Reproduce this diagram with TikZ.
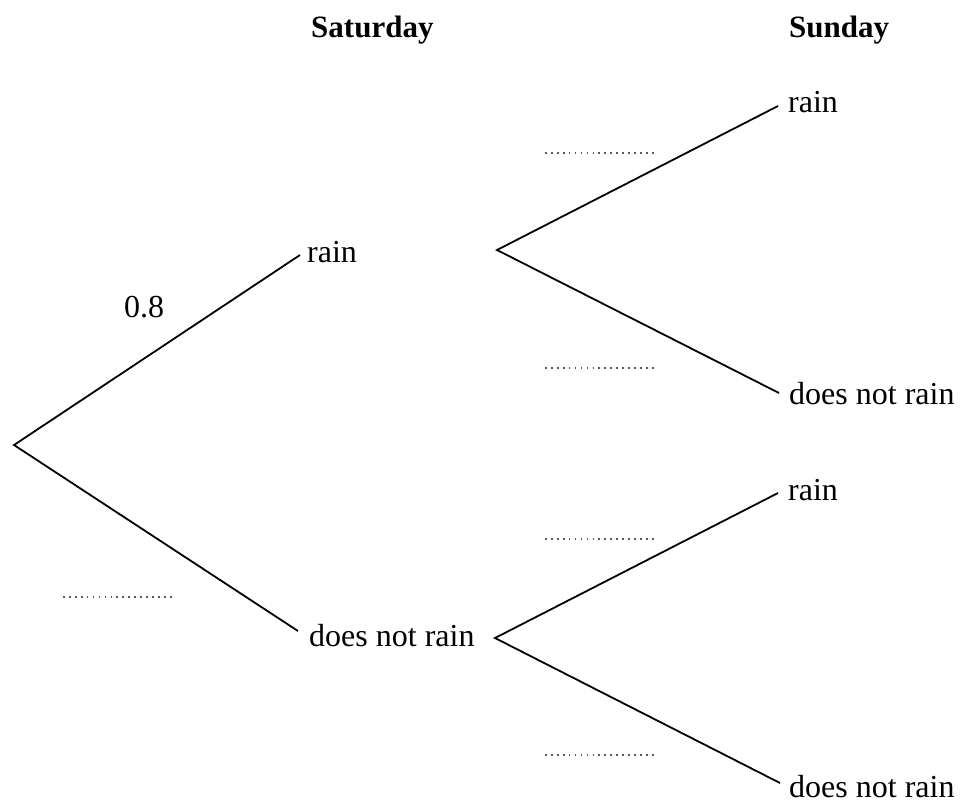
\documentclass[tikz,border=0pt]{standalone}
\usepackage{fontspec}
\setmainfont{Liberation Serif}
\tikzset{
  branch/.style={line width=1.8pt, black},
  lbl/.style={anchor=base west, inner sep=0pt, font=\fontsize{32}{38}\selectfont},
  head/.style={anchor=base west, inner sep=0pt, font=\fontsize{31}{37}\selectfont\bfseries},
  blank/.style={line width=1.7pt, gray!70!black, dash pattern=on 1.7pt off 4.24pt},
}
\begin{document}
\begin{tikzpicture}[x=1pt,y=-1pt]
\useasboundingbox (0,0) rectangle (960,809);
% headings
\node[head] (sat) at (311,37) {Saturday};
\node[head] (sun) at (789,37) {Sunday};
% vertices and branch ends
\coordinate (root) at (14,445);
\coordinate (e1) at (300,255);
\coordinate (e2) at (298,631);
\coordinate (v1) at (497,250);
\coordinate (v2) at (495,638);
\coordinate (e11) at (778,106);
\coordinate (e12) at (779,393);
\coordinate (e21) at (778,493);
\coordinate (e22) at (780,783);
% labels
\node[lbl] (l1) at (307,262) {rain};
\node[lbl] (l2) at (309,646) {does not rain};
\node[lbl] (l11) at (788,112) {rain};
\node[lbl] (l12) at (789,404) {does not rain};
\node[lbl] (l21) at (788,500) {rain};
\node[lbl] (l22) at (789,797) {does not rain};
\node[lbl] (p) at (124,317) {0.8};
% branches
\draw[branch] (e1) -- (root) -- (e2);
\draw[branch] (e11) -- (v1) -- (e12);
\draw[branch] (e21) -- (v2) -- (e22);
% blanks
\coordinate (b0a) at (63,597); \coordinate (b0b) at (172,597);
\coordinate (b1a) at (545,153); \coordinate (b1b) at (654,153);
\coordinate (b2a) at (545,368); \coordinate (b2b) at (654,368);
\coordinate (b3a) at (545,539); \coordinate (b3b) at (654,539);
\coordinate (b4a) at (545,755); \coordinate (b4b) at (654,755);
\draw[blank] (b0a) -- (b0b);
\draw[blank] (b1a) -- (b1b);
\draw[blank] (b2a) -- (b2b);
\draw[blank] (b3a) -- (b3b);
\draw[blank] (b4a) -- (b4b);
\end{tikzpicture}
\end{document}
